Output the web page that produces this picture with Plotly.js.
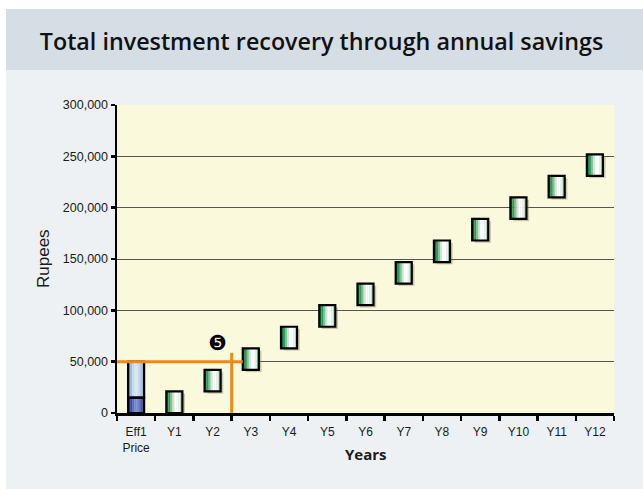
<!DOCTYPE html>
<html>
<head>
<meta charset="utf-8">
<script src="https://cdn.plot.ly/plotly-3.0.1.min.js"></script>
<style>
  html, body { margin: 0; padding: 0; background: #ffffff; }
  #panel { position: absolute; left: 6px; top: 9px; width: 637px; height: 480px; background: #edf1f4; }
  #band { position: absolute; left: 6px; top: 9px; width: 637px; height: 61px; background: #d6dee5; }
  #chart { position: absolute; left: 0; top: 0; width: 643px; height: 489px; }
</style>
</head>
<body>
<div id="panel"></div>
<div id="band"></div>
<div id="chart"></div>
<script>
// ---- data ----
const categories = ["Eff1<br>Price", "Y1", "Y2", "Y3", "Y4", "Y5", "Y6", "Y7", "Y8", "Y9", "Y10", "Y11", "Y12"];
const yearCategories = ["Y1", "Y2", "Y3", "Y4", "Y5", "Y6", "Y7", "Y8", "Y9", "Y10", "Y11", "Y12"];
const annualSavings = [21000, 21000, 21000, 21000, 21000, 21000, 21000, 21000, 21000, 21000, 21000, 21000];
const cumulativeSavings = [21000, 42000, 63000, 84000, 105000, 126000, 147000, 168000, 189000, 210000, 231000, 252000];
const priceCategory = ["Eff1<br>Price"];
const priceLower = [15000];
const priceUpper = [35000];
const paybackPoint = 2.5;      // between Y2 and Y3
const paybackMarkerLabel = "\u277A";

// ---- styles ----
const boxW = 0.42;
const greenStrips = ["#0e7b3c", "#2f9a58", "#7cc493", "#c9e9d2", "#ffffff", "#ffffff", "#e3f3e7", "#a9dab7"];
const blueLightStrips = ["#7096cb", "#9dbde3", "#c3d8f0", "#d5e4f6", "#d5e4f6", "#c3d8f0", "#a9c6e8", "#87a9d6"];
const blueDarkStrips = ["#27327c", "#3d4c9e", "#5a6cbb", "#7686c9", "#7a8acb", "#6676c0", "#4d5dae", "#36449a"];

const yearBases = cumulativeSavings.map((c, i) => c - annualSavings[i]);
const priceTotal = priceLower[0] + priceUpper[0];

function strips(x, heights, bases, colors) {
  const n = colors.length, w = boxW / n;
  return colors.map((c, i) => ({
    type: "bar", x: x, y: heights, base: bases,
    width: w * 1.05, offset: -boxW / 2 + i * w,
    marker: { color: c, line: { width: 0 } },
    hoverinfo: "skip", showlegend: false
  }));
}
function border(x, heights, bases) {
  return {
    type: "bar", x: x, y: heights, base: bases, width: boxW, offset: -boxW / 2,
    marker: { color: "rgba(0,0,0,0)", line: { color: "#000000", width: 2.2 } },
    hoverinfo: "skip", showlegend: false
  };
}

const shadow = {
  type: "bar", x: yearCategories, y: annualSavings,
  base: yearBases.map(b => b - 2200), width: boxW, offset: -boxW / 2 + 0.07,
  marker: { color: "rgba(110,110,90,0.35)", line: { width: 0 } },
  hoverinfo: "skip", showlegend: false
};

const traces = [shadow]
  .concat(strips(priceCategory, priceLower, [0], blueDarkStrips))
  .concat(strips(priceCategory, priceUpper, priceLower, blueLightStrips))
  .concat([border(priceCategory, priceLower, [0]), border(priceCategory, priceUpper, priceLower)])
  .concat(strips(yearCategories, annualSavings, yearBases, greenStrips))
  .concat([border(yearCategories, annualSavings, yearBases)]);

const orange = "#f4870f";
const layout = {
  width: 643, height: 489,
  margin: { l: 117, r: 29, t: 105, b: 76 },
  paper_bgcolor: "rgba(0,0,0,0)",
  plot_bgcolor: "#fbf9dc",
  barmode: "overlay",
  showlegend: false,
  separators: ".,",
  title: {
    text: "Total investment recovery through annual savings",
    font: { family: "Open Sans", size: 23.3, color: "#111111", weight: 600 },
    x: 0.5, xanchor: "center", xref: "container",
    y: 1 - 42 / 489, yanchor: "middle", yref: "container"
  },
  xaxis: {
    type: "category", categoryorder: "array", categoryarray: categories,
    range: [-0.5, 12.5], tickson: "boundaries",
    ticks: "outside", ticklen: 5, tickwidth: 2.5, tickcolor: "#000000",
    ticklabelstandoff: 6,
    showline: true, linecolor: "#000000", linewidth: 2.5,
    showgrid: false, zeroline: false, fixedrange: true,
    tickfont: { family: "Liberation Sans, Arial", size: 12, color: "#1a1a1a" }
  },
  yaxis: {
    range: [0, 300000], dtick: 50000, tick0: 0,
    tickformat: ",d",
    ticks: "outside", ticklen: 4, tickwidth: 2.5, tickcolor: "#000000",
    showline: true, linecolor: "#000000", linewidth: 2.5,
    showgrid: true, gridcolor: "#555555", gridwidth: 1,
    zeroline: false, fixedrange: true,
    tickfont: { family: "Liberation Sans, Arial", size: 12.5, color: "#1a1a1a" }
  },
  shapes: [
    { type: "line", xref: "x", yref: "y", x0: -0.5, x1: 3 - boxW / 2, y0: priceTotal, y1: priceTotal,
      line: { color: orange, width: 3 } },
    { type: "line", xref: "x", yref: "y", x0: paybackPoint, x1: paybackPoint, y0: 0, y1: priceTotal + 8500,
      line: { color: orange, width: 3 } }
  ],
  annotations: [
    { text: paybackMarkerLabel, xref: "x", yref: "y", x: paybackPoint - 0.38, y: priceTotal + 18000,
      showarrow: false, font: { family: "DejaVu Sans", size: 21, color: "#000000" } },
    { text: "<b>Years</b>", xref: "paper", yref: "paper", x: 0.5, y: -29 / 308,
      yanchor: "top", showarrow: false, font: { family: "Open Sans", size: 15, color: "#1a1a1a" } },
    { text: "Rupees", xref: "paper", yref: "paper", x: -74 / 497, y: 0.5, textangle: -90,
      xanchor: "center", yanchor: "middle", showarrow: false,
      font: { family: "Liberation Sans, Arial", size: 17, color: "#1a1a1a" } }
  ]
};

Plotly.newPlot("chart", traces, layout, { displayModeBar: false, staticPlot: true });
</script>
</body>
</html>
